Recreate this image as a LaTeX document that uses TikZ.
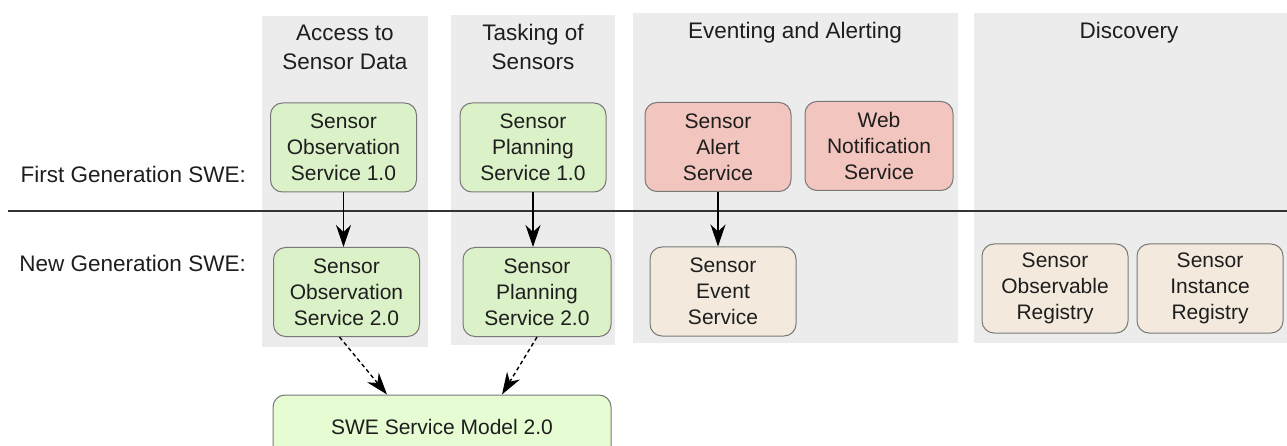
\documentclass[tikz,border=0pt]{standalone}
\usepackage{fontspec}
\setmainfont{Liberation Sans}
\usetikzlibrary{arrows.meta}
\newcommand{\boxfont}{\fontsize{21}{26}\selectfont}
\newcommand{\labelfont}{\fontsize{22.5}{29}\selectfont}

\begin{document}
\begin{tikzpicture}[x=1pt, y=-1pt,
    service/.style={draw=boxborder, line width=1pt, rounded corners=12pt, align=center,
        minimum width=146pt, minimum height=89pt, inner sep=0pt, font=\boxfont, text=textgray},
    coltitle/.style={align=center, inner sep=0pt, font=\labelfont, text=textgray},
    genlabel/.style={anchor=east, inner sep=0pt, font=\labelfont, text=textgray},
    flow/.style={-{Stealth[length=22pt, width=15pt, inset=7pt]}, line width=1.4pt, draw=black}]
    \definecolor{panelgray}{RGB}{236, 236, 236}
    \definecolor{servgreen}{RGB}{219, 242, 200}
    \definecolor{modelgreen}{RGB}{230, 252, 210}
    \definecolor{servred}{RGB}{242, 198, 190}
    \definecolor{servbeige}{RGB}{243, 234, 221}
    \definecolor{boxborder}{RGB}{120, 120, 120}
    \definecolor{textgray}{RGB}{30, 30, 30}
    \definecolor{linegray}{RGB}{51, 51, 51}

    \clip (0,0) rectangle (1287,446);

    % Column panels
    \fill[panelgray] (262,16) rectangle (428,347);
    \fill[panelgray] (451,15) rectangle (615,345);
    \fill[panelgray] (633,13) rectangle (958,343);
    \fill[panelgray] (974,13) rectangle (1287,343);

    % Column titles
    \node[coltitle] (t-access) at (345,47) {Access to\\Sensor Data};
    \node[coltitle] (t-tasking) at (533,47) {Tasking of\\Sensors};
    \node[coltitle] (t-event) at (795,33) {Eventing and Alerting};
    \node[coltitle] (t-disc) at (1129,33) {Discovery};

    % Generation separator
    \coordinate (sep-l) at (8,211);
    \coordinate (sep-r) at (1287,211);
    \draw[line width=1.8pt, draw=linegray] (sep-l) -- (sep-r);

    \node[genlabel] (first) at (246,174) {First Generation SWE:};
    \node[genlabel] (new) at (246,263) {New Generation SWE:};

    % First generation services
    \node[service, fill=servgreen] (sos1) at (343.5,147.5) {Sensor\\Observation\\Service 1.0};
    \node[service, fill=servgreen] (sps1) at (533,147.5) {Sensor\\Planning\\Service 1.0};
    \node[service, fill=servred] (sas) at (718,147) {Sensor\\Alert\\Service};
    \node[service, fill=servred, minimum width=148pt] (wns) at (879,146) {Web\\Notification\\Service};

    % New generation services
    \node[service, fill=servgreen] (sos2) at (346.5,292) {Sensor\\Observation\\Service 2.0};
    \node[service, fill=servgreen, minimum width=148pt] (sps2) at (537,292) {Sensor\\Planning\\Service 2.0};
    \node[service, fill=servbeige] (ses) at (723,291.5) {Sensor\\Event\\Service};
    \node[service, fill=servbeige] (sor) at (1055,288.5) {Sensor\\Observable\\Registry};
    \node[service, fill=servbeige] (sir) at (1210,288.5) {Sensor\\Instance\\Registry};

    \node[service, fill=modelgreen, minimum width=338pt, minimum height=64pt] (swe) at (442,427) {SWE Service Model 2.0};

    % Evolution arrows
    \draw[flow] (sos1.south) -- (sos1.south |- sos2.north);
    \draw[flow] (sps1.south) -- (sps1.south |- sps2.north);
    \draw[flow] (sas.south) -- (sas.south |- ses.north);

    % Service model arrows
    \draw[flow, dash pattern=on 4pt off 3pt] ([xshift=-7pt]sos2.south) -- ([xshift=-55pt]swe.north);
    \draw[flow, dash pattern=on 4pt off 3pt] (sps2.south) -- ([xshift=60pt]swe.north);
\end{tikzpicture}
\end{document}
